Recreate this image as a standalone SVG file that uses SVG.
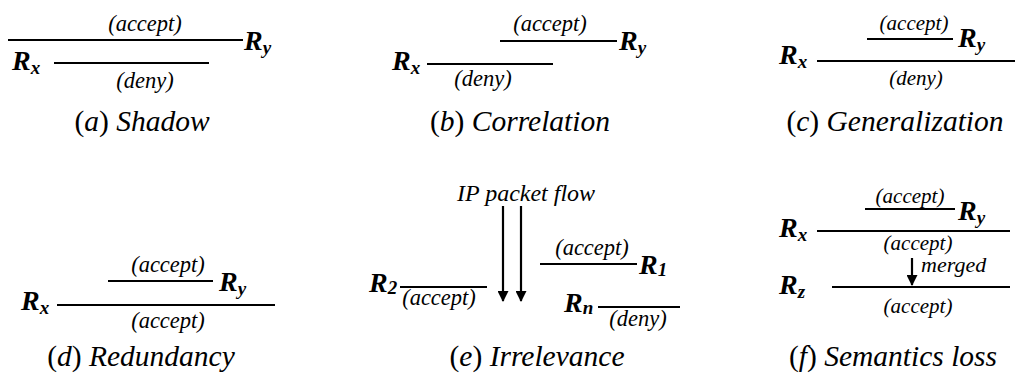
<svg xmlns="http://www.w3.org/2000/svg" width="1015" height="383" viewBox="0 0 1015 383" font-family="Liberation Serif, Times New Roman, serif">
<style>
text{font-family:"Liberation Serif","Times New Roman",serif;fill:#000}
.lbl{font-style:italic;font-size:22.5px;text-anchor:middle}
.sm{font-style:italic;font-size:21px;text-anchor:middle}
.r{font-style:italic;font-weight:bold;font-size:28px}
.sub{font-size:19px}
.cap{font-size:29.5px;text-anchor:middle}
.it{font-style:italic}
.ln{stroke:#000;stroke-width:2.2;fill:none}
.ar{stroke:#000;stroke-width:2.2;fill:none}
</style>
<defs>
<marker id="ah" viewBox="0 0 10 10" refX="9" refY="5" markerWidth="12" markerHeight="11" markerUnits="userSpaceOnUse" orient="auto">
<path d="M0,0 L10,5 L0,10 z" fill="#000"/>
</marker>
</defs>
<rect width="1015" height="383" fill="#fff"/>

<g id="panel-a">
<text class="lbl" x="145" y="31">(accept)</text>
<text class="r" x="244" y="50">R<tspan class="sub" dy="4">y</tspan></text>
<text class="r" x="12" y="70">R<tspan class="sub" dy="4">x</tspan></text>
<text class="lbl" x="145" y="88">(deny)</text>
<text class="cap" x="142" y="131">(<tspan class="it">a</tspan>) <tspan class="it">Shadow</tspan></text>
</g>

<g id="panel-b">
<text class="lbl" x="550" y="31">(accept)</text>
<text class="r" x="619" y="50">R<tspan class="sub" dy="4">y</tspan></text>
<text class="r" x="392" y="70">R<tspan class="sub" dy="4">x</tspan></text>
<text class="lbl" x="483" y="86">(deny)</text>
<text class="cap" x="520" y="131">(<tspan class="it">b</tspan>) <tspan class="it">Correlation</tspan></text>
</g>

<g id="panel-c">
<text class="sm" x="914" y="30">(accept)</text>
<text class="r" x="958" y="47">R<tspan class="sub" dy="4">y</tspan></text>
<text class="r" x="779" y="64">R<tspan class="sub" dy="4">x</tspan></text>
<text class="sm" x="916" y="85">(deny)</text>
<text class="cap" x="895" y="131">(<tspan class="it">c</tspan>) <tspan class="it">Generalization</tspan></text>
</g>

<g id="panel-d">
<text class="lbl" x="168" y="272">(accept)</text>
<text class="r" x="219" y="291">R<tspan class="sub" dy="4">y</tspan></text>
<text class="r" x="21" y="310">R<tspan class="sub" dy="4">x</tspan></text>
<text class="lbl" x="168" y="328">(accept)</text>
<text class="cap" x="141" y="366">(<tspan class="it">d</tspan>) <tspan class="it">Redundancy</tspan></text>
</g>

<g id="panel-e">
<text class="lbl" x="526" y="201" style="font-size:24px">IP packet flow</text>
<text class="lbl" x="592" y="255">(accept)</text>
<text class="r" x="639" y="274">R<tspan class="sub" dy="2">1</tspan></text>
<text class="r" x="369" y="292">R<tspan class="sub" dy="2">2</tspan></text>
<text class="lbl" x="439" y="305">(accept)</text>
<text class="r" x="564" y="312">R<tspan class="sub" dy="2">n</tspan></text>
<text class="lbl" x="638" y="326">(deny)</text>
<text class="cap" x="537" y="366">(<tspan class="it">e</tspan>) <tspan class="it">Irrelevance</tspan></text>
</g>

<g id="panel-f">
<text class="sm" x="910" y="203">(accept)</text>
<text class="r" x="958" y="220">R<tspan class="sub" dy="4">y</tspan></text>
<text class="r" x="779" y="237">R<tspan class="sub" dy="4">x</tspan></text>
<text class="sm" x="918" y="250">(accept)</text>
<text class="sm" x="921" y="272" style="text-anchor:start;font-size:22px">merged</text>
<text class="r" x="779" y="294">R<tspan class="sub" dy="4">z</tspan></text>
<text class="sm" x="918" y="313">(accept)</text>
<text class="cap" x="893" y="366">(<tspan class="it">f</tspan>) <tspan class="it">Semantics loss</tspan></text>
</g>

<g id="connectors">
<line class="ln" x1="8" y1="40" x2="243" y2="40"/>
<line class="ln" x1="54" y1="63" x2="209" y2="63"/>
<line class="ln" x1="500" y1="41" x2="617" y2="41"/>
<line class="ln" x1="427" y1="64" x2="553" y2="64"/>
<line class="ln" x1="867" y1="39" x2="953" y2="39"/>
<line class="ln" x1="817" y1="61" x2="1015" y2="61"/>
<line class="ln" x1="108" y1="281" x2="213" y2="281"/>
<line class="ln" x1="57" y1="305" x2="275" y2="305"/>
<line class="ar" x1="503" y1="206" x2="503" y2="301" marker-end="url(#ah)"/>
<line class="ar" x1="521" y1="206" x2="521" y2="301" marker-end="url(#ah)"/>
<line class="ln" x1="540" y1="264" x2="637" y2="264"/>
<line class="ln" x1="400" y1="287" x2="487" y2="287"/>
<line class="ln" x1="598" y1="307" x2="680" y2="307"/>
<line class="ln" x1="865" y1="209" x2="955" y2="209"/>
<line class="ln" x1="817" y1="231" x2="1010" y2="231"/>
<line class="ar" x1="912" y1="258" x2="912" y2="285" marker-end="url(#ah)"/>
<line class="ln" x1="832" y1="287" x2="1010" y2="287"/>
</g>
</svg>
